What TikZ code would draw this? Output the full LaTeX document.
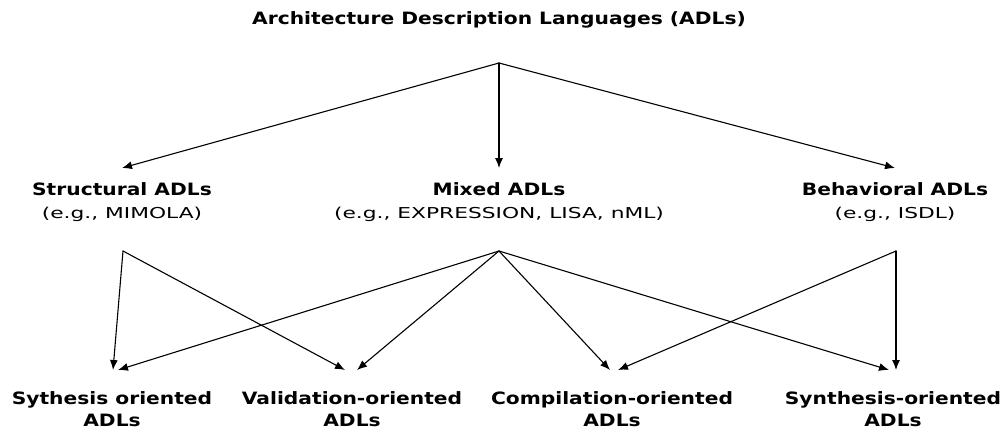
\documentclass[tikz,border=0pt]{standalone}
\usepackage{fontspec}
\setmainfont{DejaVu Sans}
\newfontfamily\regfont[FakeStretch=1.45]{DejaVu Sans}
\newfontfamily\boldfont[FakeStretch=1.19]{DejaVu Sans Bold}
\newcommand\hd{\fontsize{17}{22}\boldfont}
\usetikzlibrary{arrows.meta}

\begin{document}
\begin{tikzpicture}[x=1pt,y=-1pt,line cap=round,line join=round,
    lbl/.style={align=center,inner xsep=0pt,inner ysep=0pt,font=\fontsize{15}{23}\regfont},
    upper/.style={lbl,inner ysep=14pt,anchor=north},
    lower/.style={lbl,font=\hd,inner ysep=21pt,anchor=north},
    arr/.style={-{Latex[length=10pt,width=8pt]},line width=1.1pt}]
  \useasboundingbox (0,0) rectangle (1007,432);

  \node[lbl,font=\hd,anchor=north] (adl) at (499,11) {Architecture Description Languages (ADLs)};

  \node[upper] (struct) at (122,168) {{\hd Structural ADLs}\\(e.g., MIMOLA)};
  \node[upper] (mixed) at (499,168) {{\hd Mixed ADLs}\\(e.g., EXPRESSION, LISA, nML)};
  \node[upper] (behav) at (895,168) {{\hd Behavioral ADLs}\\(e.g., ISDL)};

  \node[lower] (syn) at (112,370) {Sythesis oriented\\ADLs};
  \node[lower] (val) at (352,370) {Validation-oriented\\ADLs};
  \node[lower] (comp) at (612,370) {Compilation-oriented\\ADLs};
  \node[lower] (synth) at (893,370) {Synthesis-oriented\\ADLs};

  \coordinate (top) at (499,63);
  \coordinate (struct-out) at (123,251);
  \coordinate (mixed-out) at (499,251);
  \coordinate (behav-out) at (896,251);

  \foreach \n in {struct,mixed,behav}
    \draw[arr] (top) -- (\n.north);

  \foreach \s/\t/\dx in {struct/syn/1, struct/val/-7, mixed/syn/6, mixed/val/5,
                         mixed/comp/-2, mixed/synth/-4, behav/comp/6, behav/synth/3}
    \draw[arr] (\s-out) -- ([xshift=\dx pt]\t.north);
\end{tikzpicture}
\end{document}
